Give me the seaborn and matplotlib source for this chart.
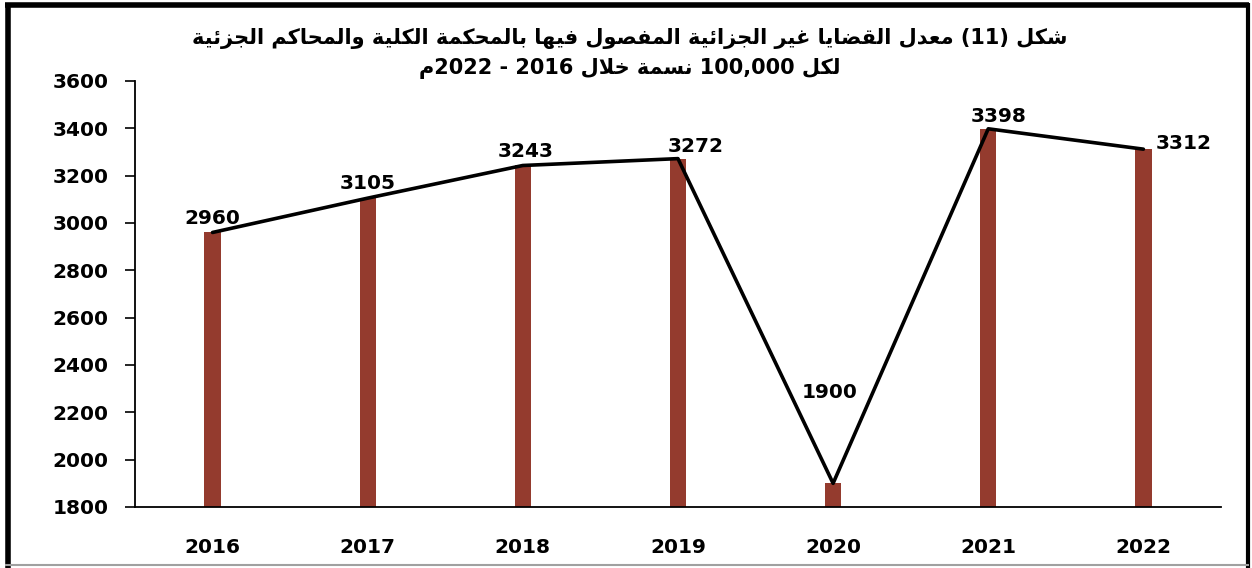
import re
import matplotlib
matplotlib.use("Agg")
import matplotlib.pyplot as plt
from matplotlib.lines import Line2D
import seaborn as sns

# data
years = ["2016", "2017", "2018", "2019", "2020", "2021", "2022"]
values = [2960, 3105, 3243, 3272, 1900, 3398, 3312]
y_ticks = [1800, 2000, 2200, 2400, 2600, 2800, 3000, 3200, 3400, 3600]
title_line1 = "شكل (11) معدل القضايا غير الجزائية المفصول فيها بالمحكمة الكلية والمحاكم الجزئية"
title_line2 = "لكل 100,000 نسمة خلال 2016 - 2022م"

# label nudges in pixels (dx, dy above bar top)
label_offsets = [(0, 14), (0, 15), (3, 14), (18, 12), (-3, 91), (10, 12), (40, 6)]

# --- minimal arabic shaping (matplotlib has no bidi / joining) ---
# iso, fin, ini, med
FORMS = {
    "ا": (0xFE8D, 0xFE8E), "د": (0xFEA9, 0xFEAA), "ر": (0xFEAD, 0xFEAE),
    "ز": (0xFEAF, 0xFEB0), "و": (0xFEED, 0xFEEE), "ة": (0xFE93, 0xFE94),
    "ب": (0xFE8F, 0xFE90, 0xFE91, 0xFE92), "ج": (0xFE9D, 0xFE9E, 0xFE9F, 0xFEA0),
    "ح": (0xFEA1, 0xFEA2, 0xFEA3, 0xFEA4), "خ": (0xFEA5, 0xFEA6, 0xFEA7, 0xFEA8),
    "س": (0xFEB1, 0xFEB2, 0xFEB3, 0xFEB4), "ش": (0xFEB5, 0xFEB6, 0xFEB7, 0xFEB8),
    "ص": (0xFEB9, 0xFEBA, 0xFEBB, 0xFEBC), "ض": (0xFEBD, 0xFEBE, 0xFEBF, 0xFEC0),
    "ع": (0xFEC9, 0xFECA, 0xFECB, 0xFECC), "غ": (0xFECD, 0xFECE, 0xFECF, 0xFED0),
    "ف": (0xFED1, 0xFED2, 0xFED3, 0xFED4), "ق": (0xFED5, 0xFED6, 0xFED7, 0xFED8),
    "ك": (0xFED9, 0xFEDA, 0xFEDB, 0xFEDC), "ل": (0xFEDD, 0xFEDE, 0xFEDF, 0xFEE0),
    "م": (0xFEE1, 0xFEE2, 0xFEE3, 0xFEE4), "ن": (0xFEE5, 0xFEE6, 0xFEE7, 0xFEE8),
    "ه": (0xFEE9, 0xFEEA, 0xFEEB, 0xFEEC), "ي": (0xFEF1, 0xFEF2, 0xFEF3, 0xFEF4),
    "ئ": (0xFE89, 0xFE8A, 0xFE8B, 0xFE8C),
}


def shape_run(run):
    out = []
    i = 0
    n = len(run)
    prev_joins = False
    while i < n:
        c = run[i]
        if c == "ل" and i + 1 < n and run[i + 1] == "ا":
            out.append(chr(0xFEFC if prev_joins else 0xFEFB))
            prev_joins = False
            i += 2
            continue
        f = FORMS[c]
        dual = len(f) == 4
        next_ok = dual and i + 1 < n
        if prev_joins and next_ok:
            g = f[3]
        elif prev_joins:
            g = f[1]
        elif next_ok:
            g = f[2]
        else:
            g = f[0]
        out.append(chr(g))
        prev_joins = dual
        i += 1
    return "".join(reversed(out))


def rtl(line):
    words = []
    for w in line.split(" "):
        runs = re.findall(r"[\u0600-\u06FF]+|[^\u0600-\u06FF]+", w)
        vis = [shape_run(r) if re.match(r"[\u0600-\u06FF]", r) else r for r in runs]
        words.append("".join(reversed(vis)))
    return " ".join(reversed(words))


sns.set_style("white")
plt.rcParams["font.family"] = ["DejaVu Sans"]
plt.rcParams["text.color"] = "black"
plt.rcParams["xtick.color"] = "black"
plt.rcParams["ytick.color"] = "black"
plt.rcParams["axes.labelcolor"] = "black"

fig = plt.figure(figsize=(12.52, 5.68), dpi=100)
ax = fig.add_axes([0.1078, 0.1074, 0.8674, 0.75])

sns.barplot(x=years, y=values, color="#943B2E", saturation=1, width=0.105,
            linewidth=0, edgecolor="none", ax=ax, zorder=2)
sns.pointplot(x=years, y=values, color="black", markers="", linestyles="-",
              linewidth=2.6, errorbar=None, ax=ax, zorder=3)

for i, (v, (dx, dy)) in enumerate(zip(values, label_offsets)):
    ax.annotate(str(v), (i, v), xytext=(dx * 0.72, dy * 0.72), textcoords="offset points",
                ha="center", va="center", fontsize=14.5, fontweight="bold",
                color="black", zorder=4)

ax.set_ylim(1800, 3600)
ax.set_xlim(-0.5, 6.5)
ax.set_yticks(y_ticks)
ax.set_ylabel("")
ax.set_xlabel("")
for s in ["top", "right"]:
    ax.spines[s].set_visible(False)
ax.spines["left"].set_color("black")
ax.spines["bottom"].set_color("black")
ax.spines["left"].set_linewidth(1.3)
ax.spines["bottom"].set_linewidth(1.3)
ax.tick_params(axis="y", direction="out", length=7, width=1.2, pad=12, left=True)
ax.tick_params(axis="x", length=0, pad=22)
for lab in ax.get_xticklabels() + ax.get_yticklabels():
    lab.set_fontsize(14.5)
    lab.set_fontweight("bold")
    lab.set_color("black")

fig.text(0.503, 0.933, rtl(title_line1), ha="center", va="center",
         fontsize=15, fontweight="bold", color="black")
fig.text(0.503, 0.88, rtl(title_line2), ha="center", va="center",
         fontsize=15, fontweight="bold", color="black")

# frame around the figure
fig.add_artist(Line2D([0.0064, 0.0064], [0.0, 0.995], transform=fig.transFigure,
                      color="black", lw=4, solid_capstyle="butt"))
fig.add_artist(Line2D([0.004, 0.998], [0.991, 0.991], transform=fig.transFigure,
                      color="black", lw=4, solid_capstyle="butt"))
fig.add_artist(Line2D([0.9968, 0.9968], [0.0, 0.995], transform=fig.transFigure,
                      color="black", lw=3, solid_capstyle="butt"))
fig.add_artist(Line2D([0.004, 0.998], [0.005, 0.005], transform=fig.transFigure,
                      color="#A0A0A0", lw=1.5, solid_capstyle="butt"))

fig.savefig("out.png", dpi=100)
